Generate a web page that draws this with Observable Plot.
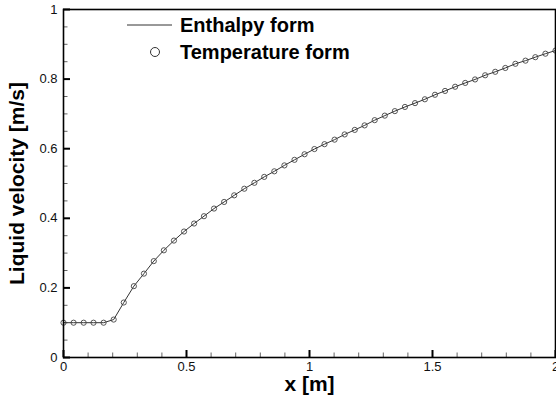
<!DOCTYPE html>
<html>
<head>
<meta charset="utf-8">
<script src="https://cdn.jsdelivr.net/npm/d3@7"></script>
<script src="https://cdn.jsdelivr.net/npm/@observablehq/plot@0.6"></script>
<style>
  html, body { margin: 0; padding: 0; background: #fff; }
  #chart { width: 556px; height: 396px; overflow: hidden; }
</style>
</head>
<body>
<div id="chart"></div>
<script>
// x positions [m]
const xPos = [0, 0.041, 0.082, 0.122, 0.163, 0.204, 0.245, 0.286, 0.327, 0.367,
  0.408, 0.449, 0.490, 0.531, 0.571, 0.612, 0.653, 0.694, 0.735, 0.776,
  0.816, 0.857, 0.898, 0.939, 0.980, 1.020, 1.061, 1.102, 1.143, 1.184,
  1.224, 1.265, 1.306, 1.347, 1.388, 1.429, 1.469, 1.510, 1.551, 1.592,
  1.633, 1.673, 1.714, 1.755, 1.796, 1.837, 1.878, 1.918, 1.959, 2.000];
// liquid velocity [m/s]
const velocity = [0.1, 0.1, 0.1, 0.1, 0.1, 0.109, 0.158, 0.205, 0.241, 0.277,
  0.308, 0.336, 0.362, 0.385, 0.406, 0.428, 0.447, 0.466, 0.485, 0.502,
  0.519, 0.535, 0.552, 0.568, 0.584, 0.599, 0.613, 0.626, 0.641, 0.654,
  0.667, 0.682, 0.695, 0.708, 0.720, 0.731, 0.742, 0.755, 0.766, 0.778,
  0.789, 0.799, 0.811, 0.821, 0.832, 0.844, 0.853, 0.863, 0.873, 0.882];
const seriesNames = ["Enthalpy form", "Temperature form"];
const xMajor = [0, 0.5, 1, 1.5, 2];
const xMinor = [0.1, 0.2, 0.3, 0.4, 0.6, 0.7, 0.8, 0.9, 1.1, 1.2, 1.3, 1.4, 1.6, 1.7, 1.8, 1.9];
const yMajor = [0, 0.2, 0.4, 0.6, 0.8, 1];
const yMinor = [0.05, 0.1, 0.15, 0.25, 0.3, 0.35, 0.45, 0.5, 0.55, 0.65, 0.7, 0.75, 0.85, 0.9, 0.95];
const xTitle = "x [m]";
const yTitle = "Liquid velocity [m/s]";

const data = xPos.map((x, i) => ({x, v: velocity[i]}));
const FONT = "'Liberation Sans', Arial, Helvetica, sans-serif";
const fmt = d => String(d);

function legend() {
  const g = d3.create("svg:g").attr("font-family", FONT);
  g.append("line").attr("x1", 127).attr("x2", 172).attr("y1", 25).attr("y2", 25)
    .attr("stroke", "#333").attr("stroke-width", 1);
  g.append("circle").attr("cx", 155).attr("cy", 52).attr("r", 4.5)
    .attr("fill", "none").attr("stroke", "#333").attr("stroke-width", 1);
  g.selectAll("text").data(seriesNames).join("text")
    .attr("x", 180).attr("y", (d, i) => 25 + i * 27)
    .attr("dy", "0.36em")
    .attr("text-anchor", "start")
    .attr("font-size", 20).attr("font-weight", "bold").attr("fill", "#000")
    .text(d => d);
  return g.node();
}

const chart = Plot.plot({
  width: 556,
  height: 396,
  marginLeft: 63,
  marginRight: 1,
  marginTop: 9,
  marginBottom: 39,
  style: {fontFamily: FONT, background: "#fff", color: "#000"},
  x: {domain: [0, 2]},
  y: {domain: [0, 1]},
  marks: [
    Plot.axisX(xMinor, {tickSize: -4.5, tickFormat: () => "", label: null, stroke: "#666", strokeWidth: 1}),
    Plot.axisX(xMajor, {tickSize: -7, tickFormat: () => "", label: null, stroke: "#000", strokeWidth: 2}),
    Plot.axisY(yMinor, {tickSize: -4.5, tickFormat: () => "", label: null, stroke: "#666", strokeWidth: 1}),
    Plot.axisY(yMajor, {tickSize: -7, tickFormat: () => "", label: null, stroke: "#000", strokeWidth: 2}),
    Plot.text(xMajor, {x: d => d, frameAnchor: "bottom", dy: 4, text: fmt, fontSize: 13, fill: "#111", textAnchor: "middle", lineAnchor: "top"}),
    Plot.text(yMajor, {y: d => d, frameAnchor: "left", dx: -6, text: fmt, fontSize: 13, fill: "#111", textAnchor: "end", lineAnchor: "middle"}),
    Plot.line(data, {x: "x", y: "v", stroke: "#333", strokeWidth: 1}),
    Plot.dot(data, {x: "x", y: "v", r: 2.6, stroke: "#444", fill: "none", strokeWidth: 0.9}),
    Plot.frame({stroke: "#000", strokeWidth: 1.6}),
    Plot.text([xTitle], {frameAnchor: "bottom", dy: 27, text: d => d, fontSize: 21, fontWeight: "bold", fill: "#000", textAnchor: "middle", lineAnchor: "middle"}),
    Plot.text([yTitle], {frameAnchor: "left", dx: -46, rotate: -90, text: d => d, fontSize: 21, fontWeight: "bold", fill: "#000", textAnchor: "middle", lineAnchor: "middle"}),
    legend
  ]
});
document.getElementById("chart").appendChild(chart);
</script>
</body>
</html>
